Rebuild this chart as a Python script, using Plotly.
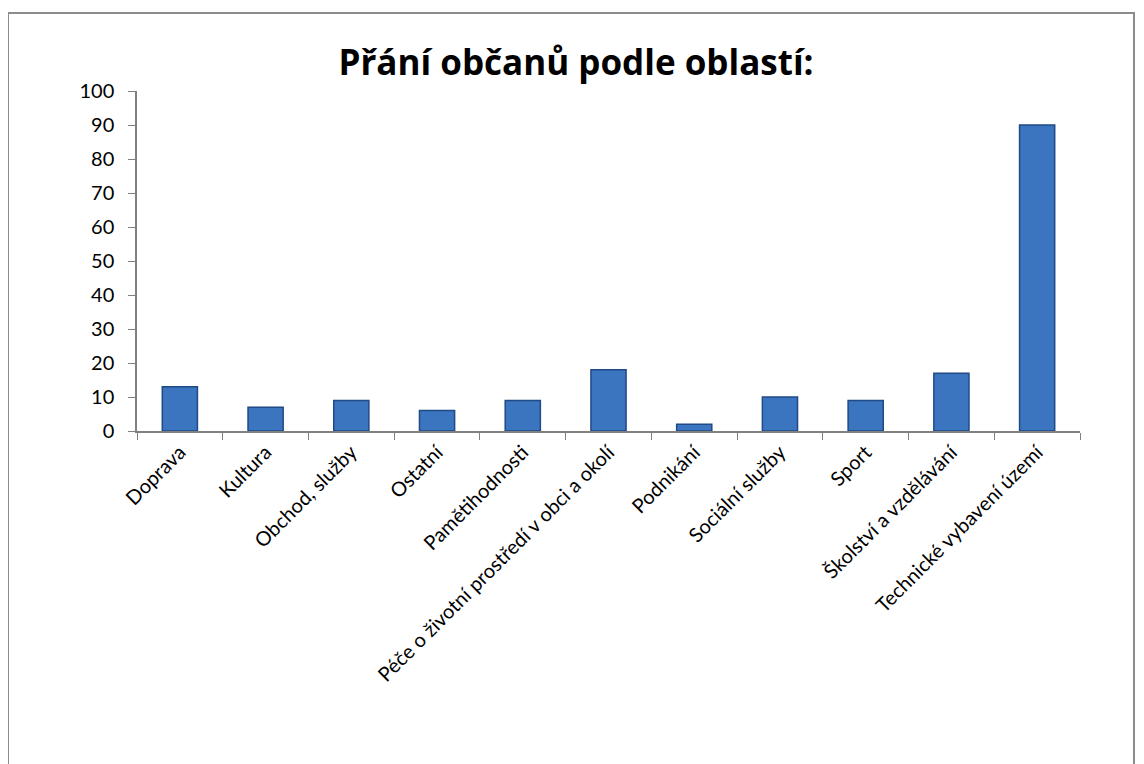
import plotly.graph_objects as go

categories = ["Doprava", "Kultura", "Obchod, služby", "Ostatní", "Pamětihodnosti",
              "Péče o životní prostředí v obci a okolí", "Podnikání", "Sociální služby",
              "Sport", "Školství a vzdělávání", "Technické vybavení území"]
values = [13, 7, 9, 6, 9, 18, 2, 10, 9, 17, 90]
y_ticks = [0, 10, 20, 30, 40, 50, 60, 70, 80, 90, 100]

# page body has an 8px margin, so the figure is placed at (8, 8)
OFF = 8
W, H = 1144 - OFF, 764 - OFF
L, T = 137 - OFF, 91 - OFF
R = W - (1080 - OFF)
B = H - (431 - OFF)
pw, ph = W - L - R, H - T - B

def px(x):
    return (x - OFF - L) / pw

def py(y):
    return (H - B - (y - OFF)) / ph

fig = go.Figure()
fig.add_trace(go.Bar(
    x=categories, y=values, width=0.41,
    marker=dict(color="#3b74bf", line=dict(color="#1f4a85", width=1.5)),
    hoverinfo="x+y",
))

fig.update_layout(
    width=W, height=H,
    margin=dict(l=L, r=R, t=T, b=B, autoexpand=False),
    paper_bgcolor="white", plot_bgcolor="white",
    font=dict(family="Lato, 'Open Sans', sans-serif", color="black", size=19),
    title=dict(text="<b>Přání občanů podle oblastí:</b>", x=0.5, xanchor="center",
               y=1 - (63 - OFF) / H, yanchor="middle",
               font=dict(family="'Open Sans', sans-serif", size=35, color="black")),
    showlegend=False,
    xaxis=dict(showline=True, linecolor="#808080", linewidth=1.5, ticks="outside",
               tickson="boundaries", ticklen=7, tickcolor="#808080", tickangle=-45,
               tickfont=dict(size=20), showgrid=False, zeroline=False),
    yaxis=dict(range=[0, 100], tickvals=y_ticks, showline=True, linecolor="#808080",
               linewidth=1.5, ticks="outside", ticklen=7, tickcolor="#808080",
               ticklabelstandoff=10,
               tickfont=dict(size=20), showgrid=False, zeroline=False),
    shapes=[dict(type="rect", xref="paper", yref="paper",
                 x0=px(8), x1=px(1134), y0=py(780), y1=py(13),
                 line=dict(color="#8c8c8c", width=2), fillcolor="rgba(0,0,0,0)", layer="below")],
)

fig.write_html("out.html")
